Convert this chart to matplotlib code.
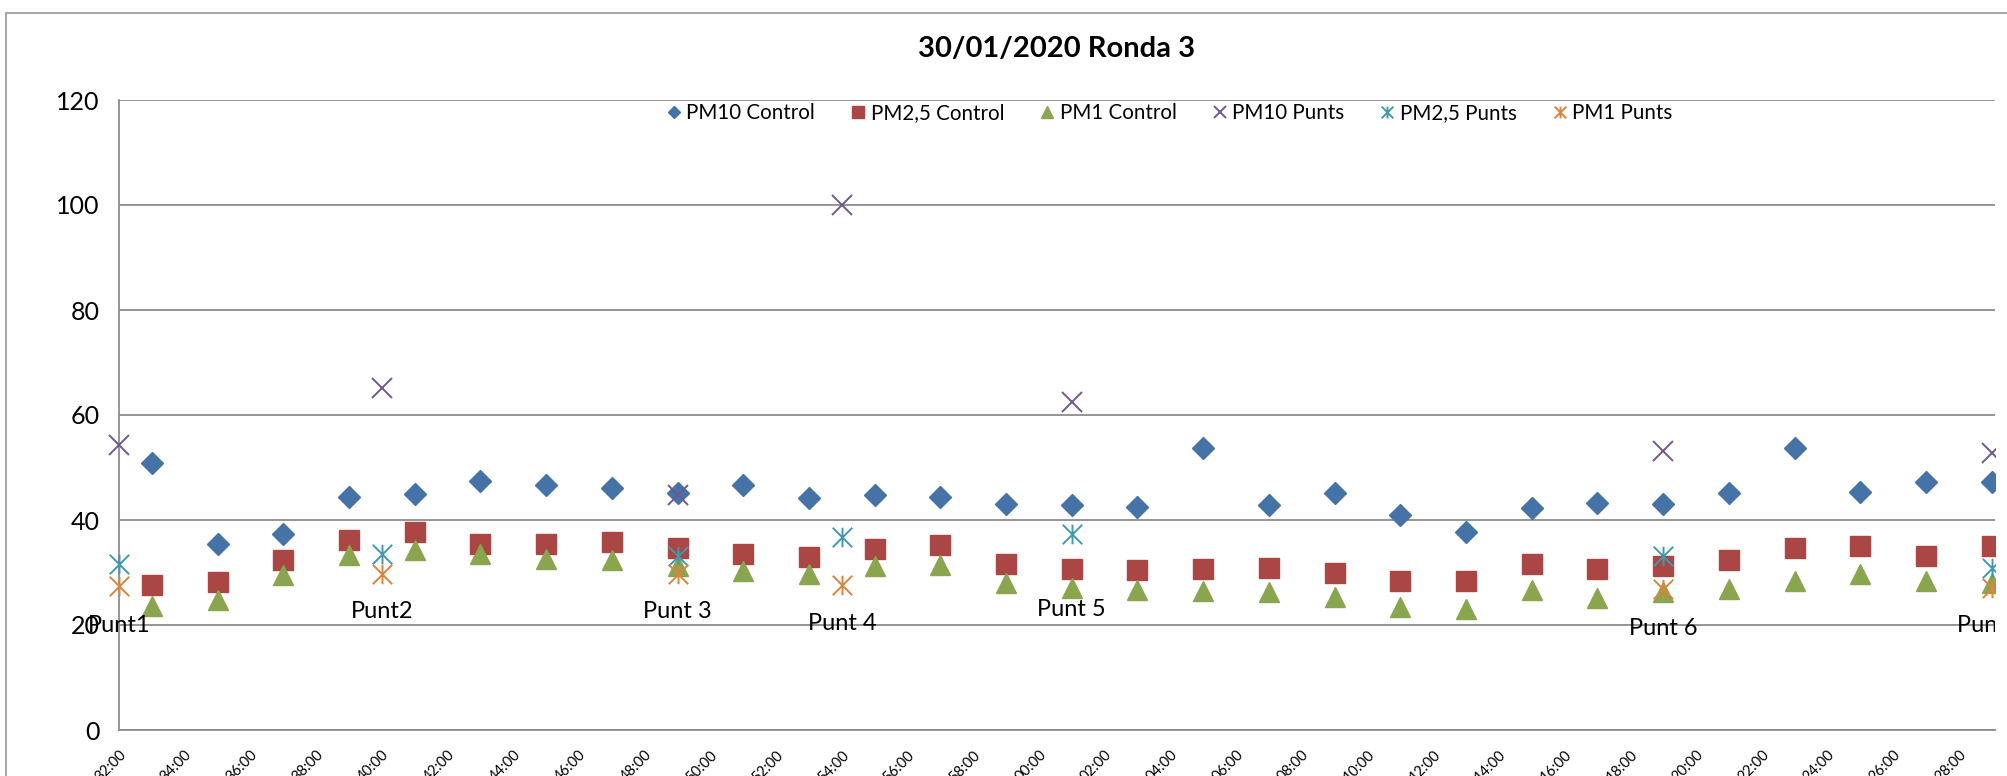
import numpy as np
import matplotlib
matplotlib.use('Agg')
import matplotlib.pyplot as plt
from matplotlib.path import Path
from matplotlib.patches import Rectangle

plt.rcParams['font.family'] = ['Lato', 'DejaVu Sans']

# minutes after 32:00
control_t = [1, 3, 5, 7, 9, 11, 13, 15, 17, 19, 21, 23, 25, 27, 29,
             31, 33, 35, 37, 39, 41, 43, 45, 47, 49, 51, 53, 55, 57]
pm10_control = [50.8, 35.4, 37.4, 44.3, 45.0, 47.4, 46.7, 46.1, 45.1, 46.6, 44.1, 44.8, 44.4, 43.0, 42.8,
                42.5, 53.8, 42.9, 45.1, 41.0, 37.7, 42.2, 43.2, 43.0, 45.1, 53.7, 45.4, 47.3, 47.2]
pm25_control = [27.6, 28.1, 32.3, 36.2, 37.8, 35.5, 35.4, 35.8, 34.7, 33.5, 33.0, 34.4, 35.2, 31.7, 30.7,
                30.5, 30.6, 30.9, 30.0, 28.3, 28.3, 31.7, 30.6, 31.2, 32.3, 34.7, 35.0, 33.1, 35.0]
pm1_control = [23.6, 24.8, 29.5, 33.3, 34.2, 33.5, 32.6, 32.4, 31.2, 30.2, 29.8, 31.2, 31.4, 28.0, 27.0,
               26.7, 26.4, 26.2, 25.4, 23.4, 23.0, 26.6, 25.2, 26.2, 26.9, 28.4, 29.8, 28.3, 28.0]

punt_t = [0, 8, 17, 22, 29, 47, 57]
pm10_punts = [54.2, 65.2, 44.7, 100.0, 62.4, 53.1, 52.8]
pm25_punts = [31.7, 33.6, 33.1, 36.8, 37.3, 33.1, 30.9]
pm1_punts = [27.4, 29.8, 29.8, 27.7, np.nan, 26.8, 27.1]

punt_names = ['Punt1', 'Punt2', 'Punt 3', 'Punt 4', 'Punt 5', 'Punt 6', 'Punt 7']
punt_label_y = [20.0, 22.5, 22.5, 20.3, 23.0, 19.3, 20.0]

xtick_t = list(range(0, 57, 2))
xtick_labels = ['32:00', '34:00', '36:00', '38:00', '40:00', '42:00', '44:00', '46:00', '48:00',
                '50:00', '52:00', '54:00', '56:00', '58:00', '00:00', '02:00', '04:00', '06:00',
                '08:00', '10:00', '12:00', '14:00', '16:00', '18:00', '20:00', '22:00', '24:00',
                '26:00', '28:00']

W, H = 2008, 776
fig = plt.figure(figsize=(W / 100, H / 100), dpi=100)
ax = fig.add_axes([119 / W, (H - 730) / H, (1995 - 119) / W, 630 / H])

# chart frame (cropped on right and bottom)
fig.patches.append(Rectangle((5.5 / W, -0.2), 2.0, 1.2 - 13 / H,
                             transform=fig.transFigure, fill=False,
                             edgecolor='#a6a6a6', linewidth=1.4))

clip_rect = Rectangle((0, 0), 1995 / W, 1, transform=fig.transFigure)

star = Path([(-1, -1), (1, 1), (-1, 1), (1, -1), (0, -1), (0, 1)],
            [Path.MOVETO, Path.LINETO, Path.MOVETO, Path.LINETO, Path.MOVETO, Path.LINETO])

series = [
    (control_t, pm10_control, 'PM10 Control', dict(marker='D', color='#4572A7', ms=11)),
    (control_t, pm25_control, 'PM2,5 Control', dict(marker='s', color='#AA4643', ms=14.4)),
    (control_t, pm1_control, 'PM1 Control', dict(marker='^', color='#89A54E', ms=14.4)),
    (punt_t, pm10_punts, 'PM10 Punts', dict(marker='x', color='#71588F', ms=14, mew=1.4)),
    (punt_t, pm25_punts, 'PM2,5 Punts', dict(marker=star, color='#4198AF', ms=14, mew=1.4)),
    (punt_t, pm1_punts, 'PM1 Punts', dict(marker=star, color='#DB843D', ms=14, mew=1.4)),
]
handles = []
for xs, ys, name, st in series:
    ln, = ax.plot(xs, ys, linestyle='none', label=name, clip_on=True, zorder=3, **st)
    ln.set_clip_path(clip_rect)
    handles.append(ln)

for x, y, s in zip(punt_t, punt_label_y, punt_names):
    t = ax.text(x, y, s, ha='center', va='center', fontsize=17, clip_on=True, zorder=4)
    t.set_clip_path(clip_rect)

ax.set_xlim(0, 57.1)
ax.set_ylim(0, 120)
ax.set_yticks(range(0, 121, 20))
ax.yaxis.grid(True, color='#8c8c8c', linewidth=1.3)
ax.set_axisbelow(True)
ax.set_xticks(xtick_t)
ax.set_xticklabels(xtick_labels, rotation=45, ha='right', rotation_mode='anchor', fontsize=10.5)
ax.tick_params(axis='x', length=0, pad=13)
ax.tick_params(axis='y', length=0, pad=14, labelsize=18)
for side in ['top', 'right']:
    ax.spines[side].set_visible(False)
for side in ['left', 'bottom']:
    ax.spines[side].set_color('#8c8c8c')
    ax.spines[side].set_linewidth(1.3)

fig.text(1057 / W, 1 - 49 / H, '30/01/2020 Ronda 3', ha='center', va='center',
         fontsize=21, fontweight='bold')

fig.legend(handles=handles, loc='center', bbox_to_anchor=(1168 / W, 1 - 113 / H), ncol=6,
           frameon=False, fontsize=14.8, markerscale=0.6, handletextpad=0.1,
           columnspacing=1.6, handlelength=1.0)

fig.savefig('out.png', dpi=100)
